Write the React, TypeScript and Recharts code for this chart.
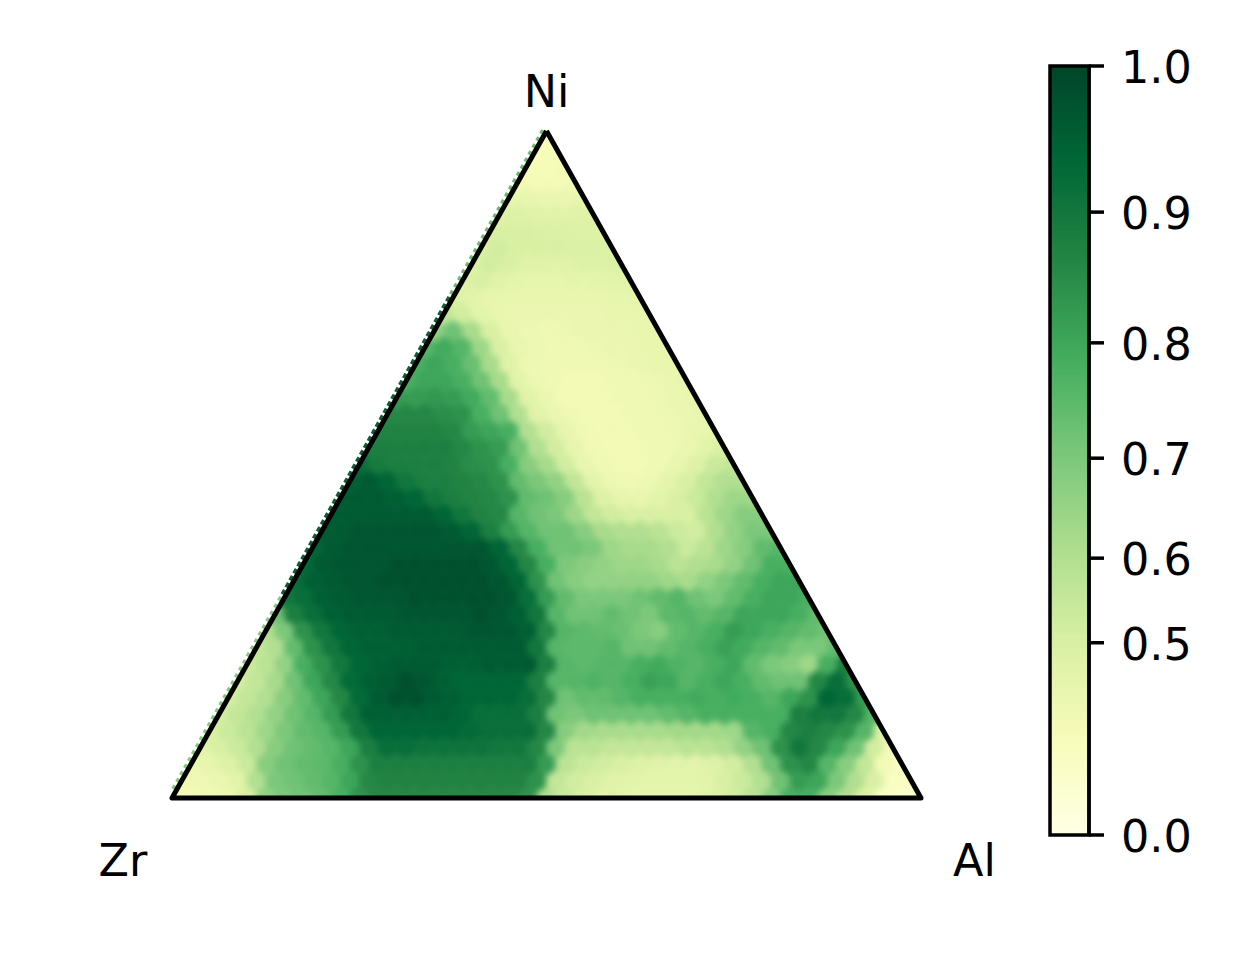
import { Bar, BarChart, ReferenceArea, Scatter, ScatterChart, XAxis, YAxis } from "recharts";

// Ternary heatmap, cell values in hundredths, one row per line from the Ni corner down to the Zr-Al edge
const cellRows = [
  [36],
  [36, 36],
  [36, 36, 37],
  [38, 37, 37, 38],
  [44, 43, 42, 42, 44],
  [48, 48, 47, 47, 47, 48],
  [50, 50, 50, 49, 49, 48, 48],
  [50, 52, 50, 50, 50, 49, 49, 49],
  [48, 52, 50, 47, 47, 47, 48, 48, 49],
  [48, 50, 47, 45, 44, 44, 45, 45, 46, 47],
  [50, 46, 44, 43, 43, 43, 43, 43, 43, 44, 45],
  [56, 52, 46, 43, 42, 42, 42, 42, 42, 43, 43, 44],
  [66, 72, 62, 50, 43, 41, 40, 41, 42, 42, 42, 43, 44],
  [76, 79, 76, 64, 50, 43, 41, 40, 40, 41, 42, 42, 43, 44],
  [78, 80, 78, 73, 62, 47, 41, 40, 39, 39, 40, 41, 42, 43, 44],
  [78, 80, 80, 78, 72, 62, 46, 41, 39, 38, 38, 39, 40, 41, 42, 44],
  [82, 82, 83, 82, 79, 74, 62, 47, 42, 38, 38, 38, 39, 40, 41, 42, 44],
  [86, 86, 86, 85, 84, 78, 72, 60, 47, 42, 39, 38, 38, 39, 40, 41, 42, 44],
  [87, 87, 87, 87, 86, 82, 80, 78, 60, 52, 44, 39, 38, 38, 39, 40, 41, 43, 45],
  [88, 88, 88, 88, 88, 86, 84, 82, 72, 60, 52, 44, 39, 38, 38, 39, 40, 42, 46, 50],
  [92, 89, 88, 88, 88, 87, 85, 84, 78, 68, 62, 52, 43, 39, 38, 38, 40, 43, 48, 54, 56],
  [95, 96, 94, 90, 88, 88, 87, 86, 84, 74, 70, 66, 56, 46, 41, 40, 41, 45, 50, 56, 60, 60],
  [96, 96, 96, 95, 94, 90, 88, 87, 86, 84, 74, 72, 68, 58, 48, 44, 43, 46, 50, 54, 60, 64, 64],
  [96, 96, 96, 96, 96, 96, 94, 90, 87, 86, 76, 72, 70, 64, 56, 52, 50, 50, 50, 50, 58, 64, 68, 68],
  [96, 96, 97, 97, 97, 97, 97, 96, 94, 88, 82, 76, 72, 72, 68, 62, 60, 60, 58, 54, 52, 60, 66, 70, 70],
  [94, 96, 97, 97, 97, 97, 97, 97, 97, 97, 94, 86, 78, 72, 72, 70, 64, 62, 62, 60, 54, 58, 64, 68, 74, 76],
  [93, 96, 97, 97, 97, 98, 98, 98, 98, 98, 97, 94, 86, 78, 70, 68, 66, 64, 64, 62, 58, 60, 62, 66, 72, 78, 78],
  [92, 95, 96, 97, 97, 98, 98, 98, 98, 98, 98, 97, 94, 84, 72, 68, 66, 66, 66, 66, 64, 62, 66, 70, 74, 78, 80, 80],
  [90, 92, 95, 96, 97, 97, 97, 98, 98, 98, 98, 98, 97, 92, 82, 74, 70, 70, 70, 72, 74, 76, 72, 70, 74, 78, 80, 80, 78],
  [72, 88, 92, 95, 96, 96, 96, 97, 97, 97, 97, 98, 97, 95, 90, 76, 72, 72, 74, 72, 70, 75, 76, 74, 76, 80, 80, 80, 78, 74],
  [60, 70, 84, 90, 94, 95, 95, 96, 96, 96, 96, 97, 97, 97, 95, 86, 76, 75, 74, 73, 70, 68, 74, 76, 78, 82, 80, 78, 76, 74, 72],
  [56, 60, 74, 84, 90, 94, 95, 95, 95, 96, 96, 96, 96, 96, 96, 90, 76, 75, 75, 76, 72, 72, 74, 76, 78, 81, 79, 76, 74, 70, 70, 74],
  [54, 58, 66, 78, 84, 90, 94, 95, 96, 96, 96, 95, 95, 96, 96, 96, 88, 76, 75, 76, 76, 78, 79, 77, 76, 78, 80, 74, 70, 68, 64, 78, 88],
  [52, 56, 62, 72, 80, 86, 93, 95, 96, 98, 97, 95, 94, 94, 94, 94, 88, 76, 76, 77, 76, 78, 81, 80, 76, 78, 80, 78, 74, 72, 72, 86, 92, 84],
  [52, 56, 60, 68, 74, 80, 86, 93, 96, 98, 98, 96, 95, 94, 94, 94, 92, 86, 72, 74, 74, 76, 78, 78, 78, 79, 78, 79, 78, 76, 80, 84, 94, 92, 82],
  [52, 56, 60, 66, 72, 76, 82, 90, 95, 95, 95, 95, 95, 94, 92, 92, 92, 88, 72, 70, 72, 72, 72, 72, 74, 76, 78, 78, 78, 78, 78, 88, 90, 90, 86, 76],
  [50, 54, 58, 64, 70, 74, 76, 82, 90, 94, 94, 94, 94, 94, 93, 92, 92, 92, 86, 68, 63, 62, 62, 62, 62, 63, 63, 63, 64, 76, 78, 86, 88, 86, 84, 76, 48],
  [46, 50, 54, 60, 68, 72, 74, 76, 80, 88, 92, 92, 91, 91, 91, 91, 90, 90, 86, 70, 58, 58, 56, 56, 56, 56, 58, 58, 60, 66, 72, 84, 90, 86, 80, 72, 52, 38],
  [42, 44, 48, 54, 68, 72, 74, 75, 78, 84, 88, 88, 88, 88, 88, 88, 88, 88, 88, 82, 58, 54, 52, 50, 48, 47, 46, 46, 48, 52, 60, 72, 84, 86, 76, 68, 56, 38, 32],
  [40, 40, 42, 46, 60, 70, 72, 74, 76, 80, 86, 87, 87, 87, 87, 87, 87, 87, 87, 84, 56, 52, 50, 47, 46, 45, 45, 45, 46, 50, 54, 60, 72, 82, 80, 70, 60, 50, 32, 30],
  [36, 38, 40, 42, 50, 66, 70, 72, 74, 78, 84, 86, 86, 86, 86, 86, 86, 86, 86, 84, 60, 54, 50, 46, 45, 44, 44, 44, 45, 48, 52, 58, 68, 78, 78, 68, 60, 48, 30, 28, 28],
];

const cornerNames = ["Ni", "Zr", "Al"];
const cornerX = [0.5, 0, 1];
const cornerY = [1, 0, 0];
// stretches of the Zr-Ni edge where boundary cells stick out past the frame, as heights on the edge
const edgeUpper = [1, 0.75];
const edgeMiddle = [0.75, 0.3];
const edgeLower = [0.3, 0.01];
const cbarTicks = [0, 0.5, 0.6, 0.7, 0.8, 0.9, 1];
const ylGn = ["#ffffe5", "#f7fcb9", "#d9f0a3", "#addd8e", "#78c679", "#41ab5d", "#238443", "#006837", "#004529"];

const WIDTH = 1259;
const HEIGHT = 960;
const PLOT = { left: 172, right: 338, top: 131, bottom: 162 };
const N = cellRows.length - 1;
const FONT = "'DejaVu Sans', sans-serif";
const FONT_SIZE = 44.5;

const labelOffset: Record<string, [number, number]> = { Ni: [0, -24], Zr: [-49, 78], Al: [53.5, 78] };

// colormap is evaluated on v^2, the colorbar is power-scaled
function colorAt(f: number) {
  const t = Math.min(Math.max(f, 0), 1) * (ylGn.length - 1);
  const i = Math.min(Math.floor(t), ylGn.length - 2);
  const mix = (a: string, b: string, s: number) =>
    Math.round(parseInt(a, 16) + (parseInt(b, 16) - parseInt(a, 16)) * s);
  const from = ylGn[i];
  const to = ylGn[i + 1];
  const s = t - i;
  return `rgb(${mix(from.slice(1, 3), to.slice(1, 3), s)},${mix(from.slice(3, 5), to.slice(3, 5), s)},${mix(from.slice(5, 7), to.slice(5, 7), s)})`;
}

const cells = cellRows.flatMap((row, n) => {
  const r = N - n;
  return row.map((value, k) => ({ x: (k + r / 2) / N, y: r / N, value: value / 100 }));
});
const corners = cornerNames.map((name, i) => ({ name, x: cornerX[i], y: cornerY[i] }));
const outline = [corners[0], corners[1], corners[2], corners[0]];
const onEdge = (heights: number[]) => heights.map((y) => ({ x: y / 2 - 0.003, y }));

const plotW = WIDTH - PLOT.left - PLOT.right;
const plotH = HEIGHT - PLOT.top - PLOT.bottom;
const hexW = plotW / N / 2;
const hexH = plotH / N / 1.5;
const clipPoints = [
  [PLOT.left + plotW / 2, PLOT.top - 2],
  [PLOT.left - 1, PLOT.top + plotH + 2],
  [PLOT.left + plotW + 1, PLOT.top + plotH + 2],
].map((p) => p.join(",")).join(" ");

function HexCell(props: any) {
  const { cx, cy, payload } = props;
  const fill = colorAt(payload.value * payload.value);
  const d = `M${cx},${cy - hexH}L${cx + hexW},${cy - hexH / 2}L${cx + hexW},${cy + hexH / 2}L${cx},${cy + hexH}L${cx - hexW},${cy + hexH / 2}L${cx - hexW},${cy - hexH / 2}Z`;
  return <path d={d} fill={fill} stroke={fill} strokeWidth={0.6} />;
}

function CornerLabel(props: any) {
  const { cx, cy, payload } = props;
  const [dx, dy] = labelOffset[payload.name];
  return (
    <text x={cx + dx} y={cy + dy} textAnchor="middle" fontFamily={FONT} fontSize={FONT_SIZE} fill="#000">
      {payload.name}
    </text>
  );
}

const NoPoint = () => <g />;

const cbarSteps = Array.from({ length: 256 }, (_, i) => i);
const cbarRow: Record<string, number | string> = { name: "cbar" };
cbarSteps.forEach((i) => {
  cbarRow[`s${i}`] = 1 / cbarSteps.length;
});

export default function App() {
  return (
    <div style={{ position: "absolute", left: 0, top: 0, width: WIDTH, height: HEIGHT, overflow: "hidden", background: "#fff" }}>
      {/* soften the coarse cells, clip comes after the blur so the frame stays sharp */}
      <style>{`.hex-layer { filter: blur(3px); clip-path: url(#triClip); }`}</style>
      <div style={{ position: "absolute", left: 0, top: 0 }}>
        <ScatterChart width={WIDTH} height={HEIGHT} margin={PLOT}>
          <defs>
            <clipPath id="triClip">
              <polygon points={clipPoints} />
            </clipPath>
          </defs>
          <XAxis type="number" dataKey="x" domain={[0, 1]} hide />
          <YAxis type="number" dataKey="y" domain={[0, 1]} hide />
          <Scatter className="hex-layer" data={cells} shape={HexCell} isAnimationActive={false} />
          <Scatter
            data={onEdge(edgeUpper)}
            line={{ stroke: "#6dbb70", strokeWidth: 7, strokeDasharray: "4 4" }}
            shape={NoPoint}
            isAnimationActive={false}
          />
          <Scatter
            data={onEdge(edgeMiddle)}
            line={{ stroke: "#0b5f36", strokeWidth: 7, strokeDasharray: "5 3" }}
            shape={NoPoint}
            isAnimationActive={false}
          />
          <Scatter
            data={onEdge(edgeLower)}
            line={{ stroke: "#86cc7e", strokeWidth: 7, strokeDasharray: "4 4" }}
            shape={NoPoint}
            isAnimationActive={false}
          />
          <Scatter
            data={outline}
            line={{ stroke: "#000", strokeWidth: 5, strokeLinejoin: "round" }}
            shape={NoPoint}
            isAnimationActive={false}
          />
          <Scatter data={corners} shape={CornerLabel} isAnimationActive={false} />
        </ScatterChart>
      </div>
      <div style={{ position: "absolute", left: 0, top: 0 }}>
        <BarChart
          width={WIDTH}
          height={HEIGHT}
          data={[cbarRow]}
          barCategoryGap={0}
          margin={{ left: 1050, right: 70, top: 66, bottom: 125 }}
        >
          <XAxis dataKey="name" hide />
          <YAxis orientation="right" width={100} type="number" domain={[0, 1]} tick={false} axisLine={false} tickLine={false} />
          {cbarSteps.map((i) => (
            <Bar
              key={i}
              dataKey={`s${i}`}
              stackId="cb"
              fill={colorAt((i + 0.5) / cbarSteps.length)}
              shapeRendering="crispEdges"
              isAnimationActive={false}
            />
          ))}
        </BarChart>
      </div>
      <div style={{ position: "absolute", left: 0, top: 0 }}>
        <BarChart
          width={WIDTH}
          height={HEIGHT}
          data={[cbarRow]}
          margin={{ left: 1050, right: 70, top: 66, bottom: 125 }}
        >
          <XAxis dataKey="name" hide />
          <YAxis
            orientation="right"
            width={100}
            type="number"
            domain={[0, 1]}
            ticks={cbarTicks.map((v) => v * v)}
            interval={0}
            tickFormatter={(f: number) => Math.sqrt(f).toFixed(1)}
            tickSize={15}
            tickMargin={17}
            axisLine={{ stroke: "#000", strokeWidth: 3.5 }}
            tickLine={{ stroke: "#000", strokeWidth: 3.5 }}
            tick={{ fill: "#000", fontSize: FONT_SIZE, fontFamily: FONT, dy: 1 }}
          />
          {/* empty series: keeps the axis bound in this overlay */}
          <Bar dataKey="s0" fill="none" isAnimationActive={false} />
          <ReferenceArea y1={0} y2={1} fill="none" stroke="#000" strokeWidth={3.5} ifOverflow="visible" />
        </BarChart>
      </div>
    </div>
  );
}
